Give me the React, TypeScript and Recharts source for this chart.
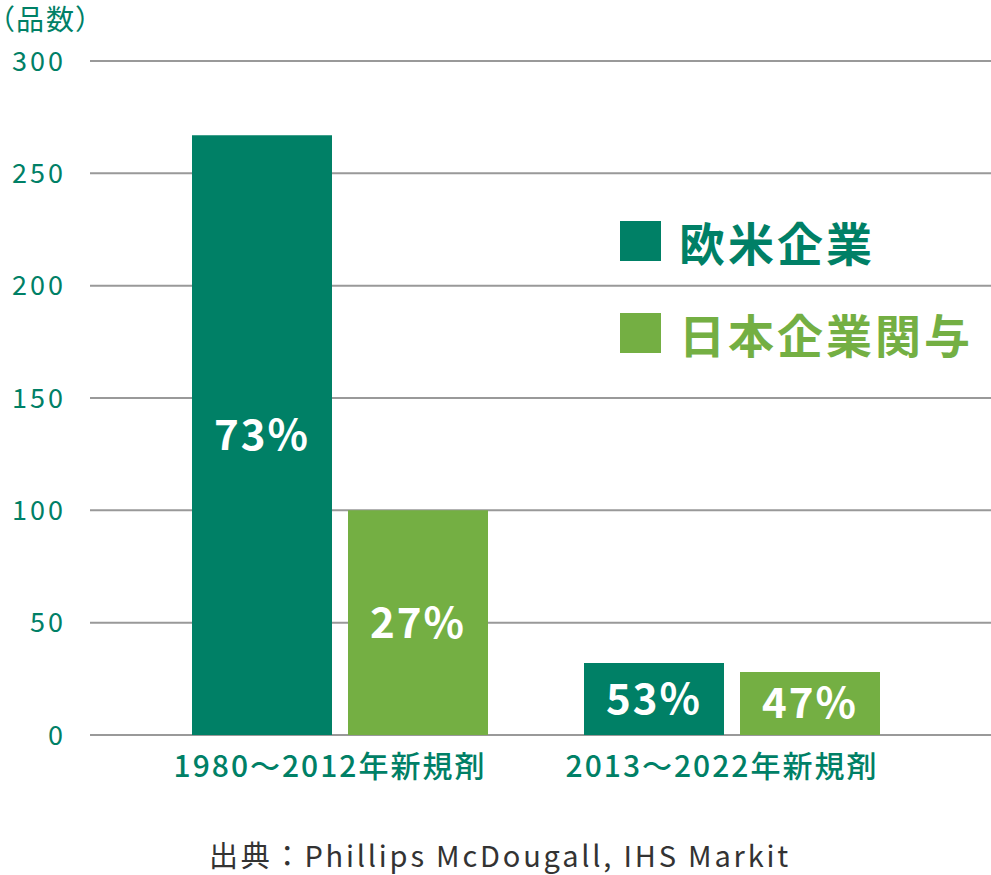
import React from 'react';
import { BarChart, Bar, XAxis, YAxis, CartesianGrid, LabelList, Legend } from 'recharts';

const categories = ['1980～2012年新規剤', '2013～2022年新規剤'];
const westernCounts = [267, 32];
const japanCounts = [100, 28];
const westernShare = ['73%', '53%'];
const japanShare = ['27%', '47%'];
const yTicks = [0, 50, 100, 150, 200, 250, 300];
const seriesNames = ['欧米企業', '日本企業関与'];
const seriesKeys = ['western', 'japan'];

const DARK = '#008066';
const LIGHT = '#74AF43';
const FONT = '"Noto Sans CJK JP", "Noto Sans", sans-serif';

const data = categories.map((c, i) => ({
  name: c,
  western: westernCounts[i],
  japan: japanCounts[i],
  westernLabel: westernShare[i],
  japanLabel: japanShare[i],
}));

const LegendContent = (props: any) => {
  const payload = [...(props.payload || [])].sort(
    (a: any, b: any) => seriesKeys.indexOf(a.dataKey) - seriesKeys.indexOf(b.dataKey)
  );
  return (
    <div style={{ fontFamily: FONT }}>
      {payload.map((p: any, i: number) => (
        <div key={i} style={{ display: 'flex', alignItems: 'center', height: 40, marginBottom: i === 0 ? 52 : 0 }}>
          <div style={{ width: 41, height: 40, background: p.color, marginRight: 18 }} />
          <span style={{ color: p.color, fontSize: 46, fontWeight: 700, letterSpacing: 3, lineHeight: '40px' }}>{p.value}</span>
        </div>
      ))}
    </div>
  );
};

export default function App() {
  return (
    <div style={{ position: 'absolute', left: 0, top: 0, width: 991, height: 875, background: '#fff', fontFamily: FONT, overflow: 'hidden' }}>
      <div style={{ position: 'absolute', left: 0, top: 0, fontSize: 28, letterSpacing: 2, color: DARK, lineHeight: '36px', fontFeatureSettings: '"palt"' }}>（品数）</div>
      <BarChart width={991} height={875} data={data} margin={{ top: 61, right: 0, left: 0, bottom: 100 }} barGap={16}>
        <CartesianGrid vertical={false} stroke="#999" strokeWidth={2} />
        <XAxis
          dataKey="name"
          padding={{ left: 54, right: 63 }}
          axisLine={false}
          tickLine={false}
          tickSize={0}
          tickMargin={21}
          height={40}
          tick={{ fill: DARK, fontSize: 30, fontWeight: 500, fontFamily: FONT, letterSpacing: 2, dx: -10 }}
          interval={0}
        />
        <YAxis
          width={90}
          domain={[0, 300]}
          ticks={yTicks}
          axisLine={false}
          tickLine={false}
          tickSize={0}
          tickMargin={24}
          tick={{ fill: DARK, fontSize: 27, fontFamily: FONT, letterSpacing: 3 }}
        />
        <Legend
          layout="vertical"
          align="center"
          verticalAlign="middle"
          content={<LegendContent />}
          wrapperStyle={{ position: 'absolute', left: 620, top: 221, width: 371 }}
        />
        <Bar dataKey="western" name={seriesNames[0]} fill={DARK} barSize={140} isAnimationActive={false}>
          <LabelList dataKey="westernLabel" position="center" fill="#fff" fontSize={42} fontWeight={700} fontFamily={FONT} letterSpacing={2} />
        </Bar>
        <Bar dataKey="japan" name={seriesNames[1]} fill={LIGHT} barSize={140} isAnimationActive={false}>
          <LabelList dataKey="japanLabel" position="center" fill="#fff" fontSize={42} fontWeight={700} fontFamily={FONT} letterSpacing={2} />
        </Bar>
      </BarChart>
      <div style={{ position: 'absolute', left: 0, width: 1000, top: 837, textAlign: 'center', fontSize: 29, letterSpacing: 2.8, color: '#333', lineHeight: '34px' }}>
        出典：Phillips McDougall, IHS Markit
      </div>
    </div>
  );
}
